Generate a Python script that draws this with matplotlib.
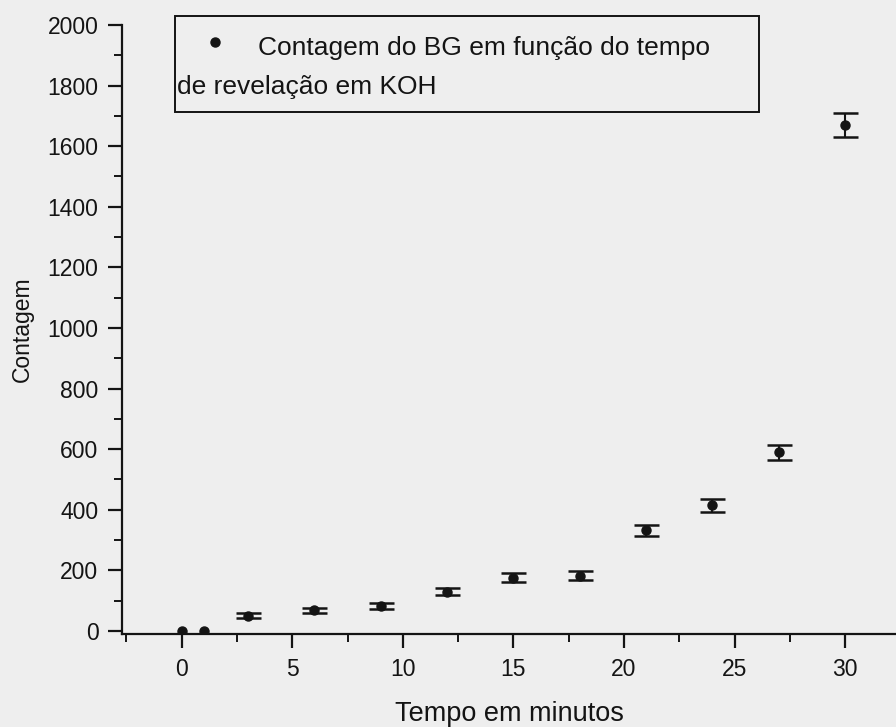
import matplotlib.pyplot as plt
from matplotlib.patches import Rectangle
from matplotlib.ticker import MultipleLocator

# Contagem do BG vs tempo de revelação
tempo = [0, 1, 3, 6, 9, 12, 15, 18, 21, 24, 27, 30]
contagem = [0, 0, 50, 68, 82, 130, 175, 183, 333, 415, 590, 1670]
erro = [0, 0, 8, 9, 10, 12, 15, 15, 18, 21, 25, 40]

plt.rcParams['font.family'] = ['Liberation Sans', 'DejaVu Sans']
ink = '#141414'
paper = '#eeeeee'

fig = plt.figure(figsize=(8.96, 7.27), dpi=100, facecolor=paper)
ax = fig.add_axes([122 / 896, 93 / 727, 774 / 896, 609 / 727])
ax.set_facecolor(paper)

# points without an error bar (t = 0, 1) get no caps
com_erro = [i for i, e in enumerate(erro) if e > 0]
sem_erro = [i for i, e in enumerate(erro) if e == 0]
ax.errorbar([tempo[i] for i in com_erro], [contagem[i] for i in com_erro],
            yerr=[erro[i] for i in com_erro], fmt='o', color=ink, ms=6.5,
            elinewidth=1.5, capsize=9, capthick=1.8, zorder=3)
ax.plot([tempo[i] for i in sem_erro], [contagem[i] for i in sem_erro],
        'o', color=ink, ms=6.5, zorder=3)

ax.set_xlim(-2.7, 32.3)
ax.set_ylim(-10, 2000)
ax.xaxis.set_major_locator(MultipleLocator(5))
ax.xaxis.set_minor_locator(MultipleLocator(2.5))
ax.yaxis.set_major_locator(MultipleLocator(200))
ax.yaxis.set_minor_locator(MultipleLocator(100))

for side in ['top', 'right']:
    ax.spines[side].set_visible(False)
for side in ['left', 'bottom']:
    ax.spines[side].set_linewidth(1.6)
    ax.spines[side].set_color(ink)

ax.tick_params(which='major', direction='out', length=10, width=1.6,
               labelsize=16.5, colors=ink, pad=7)
ax.tick_params(which='minor', direction='out', length=6, width=1.4, colors=ink)

ax.set_xlabel('Tempo em minutos', fontsize=19.5, color=ink, labelpad=15)
ax.set_ylabel('Contagem', fontsize=16.5, color=ink, labelpad=10)

# legend box drawn by hand (bullet on first line, text wraps under it)
ax.add_patch(Rectangle((0.0685, 0.857), 0.755, 0.158, transform=ax.transAxes,
                       fill=False, edgecolor=ink, lw=1.4, clip_on=False))
ax.plot([0.12], [0.972], 'o', color=ink, ms=6.5, transform=ax.transAxes,
        clip_on=False)
ax.text(0.176, 0.963, 'Contagem do BG em função do tempo', transform=ax.transAxes,
        fontsize=19, color=ink, ha='left', va='center')
ax.text(0.071, 0.899, 'de revelação em KOH', transform=ax.transAxes,
        fontsize=19, color=ink, ha='left', va='center')

fig.savefig('out.png', dpi=100, facecolor=paper)
